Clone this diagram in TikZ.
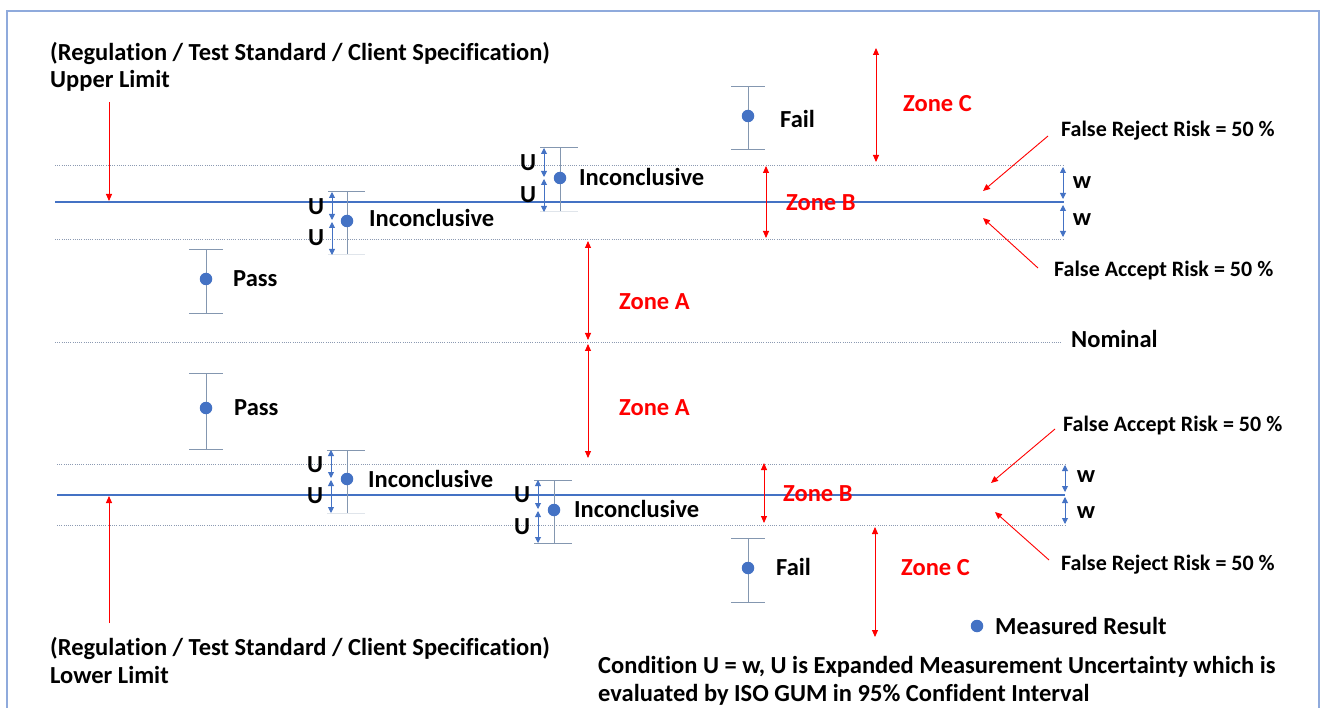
\documentclass[tikz,border=0pt]{standalone}
\usepackage{fontspec}
\setmainfont[Ligatures=NoCommon]{Carlito}
\usepackage{tikz}
\usetikzlibrary{arrows.meta,calc}
\definecolor{limitblue}{HTML}{4472C4}
\definecolor{frameblue}{HTML}{8FAADC}
\definecolor{barblue}{HTML}{8497B0}
\definecolor{dotgray}{HTML}{8C9AB2}
\definecolor{zonered}{HTML}{FF0000}
\tikzset{
  limitline/.style={draw=limitblue, line width=1.2pt},
  dotline/.style={draw=dotgray, line width=0.8pt, dash pattern=on 1pt off 1.2pt},
  errbar/.style={draw=barblue, line width=1pt},
  uarrow/.style={draw=limitblue, line width=0.9pt, {Triangle[length=6pt,width=6pt]}-{Triangle[length=6pt,width=6pt]}},
  zarrow/.style={draw=zonered, line width=0.9pt, {Triangle[length=7pt,width=6pt]}-{Triangle[length=7pt,width=6pt]}},
  parrow/.style={draw=zonered, line width=0.9pt, -{Triangle[length=7pt,width=6pt]}},
  dot/.style={circle, fill=limitblue, inner sep=0pt, minimum size=12.5pt},
  lbl/.style={font=\fontsize{24.5}{28}\selectfont\bfseries, inner sep=0pt},
  zlbl/.style={lbl, text=zonered, anchor=west},
  risk/.style={font=\fontsize{22}{26}\selectfont\bfseries, inner sep=0pt, anchor=west}
}

\begin{document}
\begin{tikzpicture}[x=1pt, y=-1pt]
  \useasboundingbox (0,0) rectangle (1322,708);
  \draw[frameblue, line width=1.8pt] (7,730) -- (7,11) -- (1319,11) -- (1319,730);

  % limit and nominal lines
  \coordinate (upL) at (55,202);  \coordinate (upR) at (1064,202);
  \coordinate (loL) at (57,495);  \coordinate (loR) at (1065,495);
  \draw[dotline] (55,165) -- (1064,165);
  \draw[limitline] (upL) -- (upR);
  \draw[dotline] (55,239) -- (1064,239);
  \draw[dotline] (55,342) -- (1062,342);
  \draw[dotline] (57,464) -- (1065,464);
  \draw[limitline] (loL) -- (loR);
  \draw[dotline] (57,525) -- (1065,525);

  % specification labels
  \node[lbl, anchor=west] (regup) at (50,53) {(Regulation / Test Standard / Client Specification)};
  \node[lbl, anchor=west] (upper) at (50,81) {Upper Limit};
  \node[lbl, anchor=west] (reglo) at (50,648) {(Regulation / Test Standard / Client Specification)};
  \node[lbl, anchor=west] (lower) at (50,675) {Lower Limit};
  \coordinate (uptail) at (109,102);  \coordinate (uphead) at (109,201);
  \coordinate (lotail) at (109,623);  \coordinate (lohead) at (109,496);
  \draw[parrow] (uptail) -- (uphead);
  \draw[parrow] (lotail) -- (lohead);
  \node[lbl, anchor=west] (nominal) at (1071,339) {Nominal};

  % pass / fail results with error bars
  \foreach \x/\t/\b/\m [count=\i] in {206/250/314/279, 206/373/449/408, 748/87/150/116, 748/538/602/568}{
    \draw[errbar] (\x-17,\t) -- (\x+17,\t) (\x,\t) -- (\x,\b) (\x-17,\b) -- (\x+17,\b);
    \node[dot] (res\i) at (\x,\m) {};
  }
  \node[lbl, anchor=west] (pass1) at (233,279) {Pass};
  \node[lbl, anchor=west] (pass2) at (234,408) {Pass};
  \node[lbl, anchor=west] (fail1) at (780,119) {Fail};
  \node[lbl, anchor=west] (fail2) at (776,567) {Fail};

  % inconclusive results: bar x / top / bottom / centre / arrow x / bottom cap
  \foreach \x/\t/\b/\m/\a/\c [count=\i] in {347/192/255/221/332/barblue!25, 560/148/212/178/544/barblue!25,
      347/450/513/479/331/barblue!25, 554/480/543/510/538/barblue}{
    \draw[errbar] (\a-4,\t) -- (\x+18,\t) (\x,\t) -- (\x,\b);
    \draw[errbar, draw=\c] (\a-4,\b) -- (\x+18,\b);
    \node[dot] (inc\i) at (\x,\m) {};
    \draw[uarrow] (\a,\t) -- (\a,\m-1);
    \draw[uarrow] (\a,\m+1) -- (\a,\b);
    \node[lbl] (uhi\i) at (\a-16,{(\t+\m)/2}) {U};
    \node[lbl] (ulo\i) at (\a-16,{(\m+\b)/2}) {U};
  }
  \node[lbl, anchor=west] (incl1) at (369,218) {Inconclusive};
  \node[lbl, anchor=west] (incl2) at (579,177) {Inconclusive};
  \node[lbl, anchor=west] (incl3) at (368,479) {Inconclusive};
  \node[lbl, anchor=west] (incl4) at (574,509) {Inconclusive};

  % zones
  \draw[zarrow] (876,48) -- (876,162);
  \draw[zarrow] (766,166) -- (766,238);
  \draw[zarrow] (588,241) -- (588,340);
  \draw[zarrow] (588,344) -- (588,458);
  \draw[zarrow] (764,463) -- (764,523);
  \draw[zarrow] (875,527) -- (875,637);
  \node[zlbl] (zc1) at (903,104) {Zone C};
  \node[zlbl] (zb1) at (786,203) {Zone B};
  \node[zlbl] (za1) at (619,302) {Zone A};
  \node[zlbl] (za2) at (619,408) {Zone A};
  \node[zlbl] (zb2) at (783,494) {Zone B};
  \node[zlbl] (zc2) at (901,568) {Zone C};

  % guard band w
  \draw[uarrow] (1063,167) -- (1063,199);
  \draw[uarrow] (1063,205) -- (1063,237);
  \draw[uarrow] (1065,465) -- (1065,492);
  \draw[uarrow] (1065,497) -- (1065,524);
  \node[lbl] (w1) at (1082,183) {w};
  \node[lbl] (w2) at (1082,220) {w};
  \node[lbl] (w3) at (1086,477) {w};
  \node[lbl] (w4) at (1086,513) {w};

  % risks
  \node[risk] (frU) at (1061,131) {False Reject Risk = 50 \%};
  \node[risk] (faU) at (1054,271) {False Accept Risk = 50 \%};
  \node[risk] (faL) at (1063,426) {False Accept Risk = 50 \%};
  \node[risk] (frL) at (1061,565) {False Reject Risk = 50 \%};
  \coordinate (frUa) at (1048,136);  \coordinate (frUb) at (983,191);
  \coordinate (faUa) at (1038,268);  \coordinate (faUb) at (983,218);
  \coordinate (faLa) at (1055,429);  \coordinate (faLb) at (991,483);
  \coordinate (frLa) at (1049,560);  \coordinate (frLb) at (995,512);
  \draw[parrow] (frUa) -- (frUb);
  \draw[parrow] (faUa) -- (faUb);
  \draw[parrow] (faLa) -- (faLb);
  \draw[parrow] (frLa) -- (frLb);

  % legend and note
  \node[dot] (legdot) at (977,626) {};
  \node[lbl, anchor=west] (legend) at (995,626) {Measured Result};
  \node[lbl, anchor=north west, align=left] (note) at (598,656)
    {Condition U = w, U is Expanded Measurement Uncertainty which is\\evaluated by ISO GUM in 95\% Confident Interval};
\end{tikzpicture}
\end{document}
